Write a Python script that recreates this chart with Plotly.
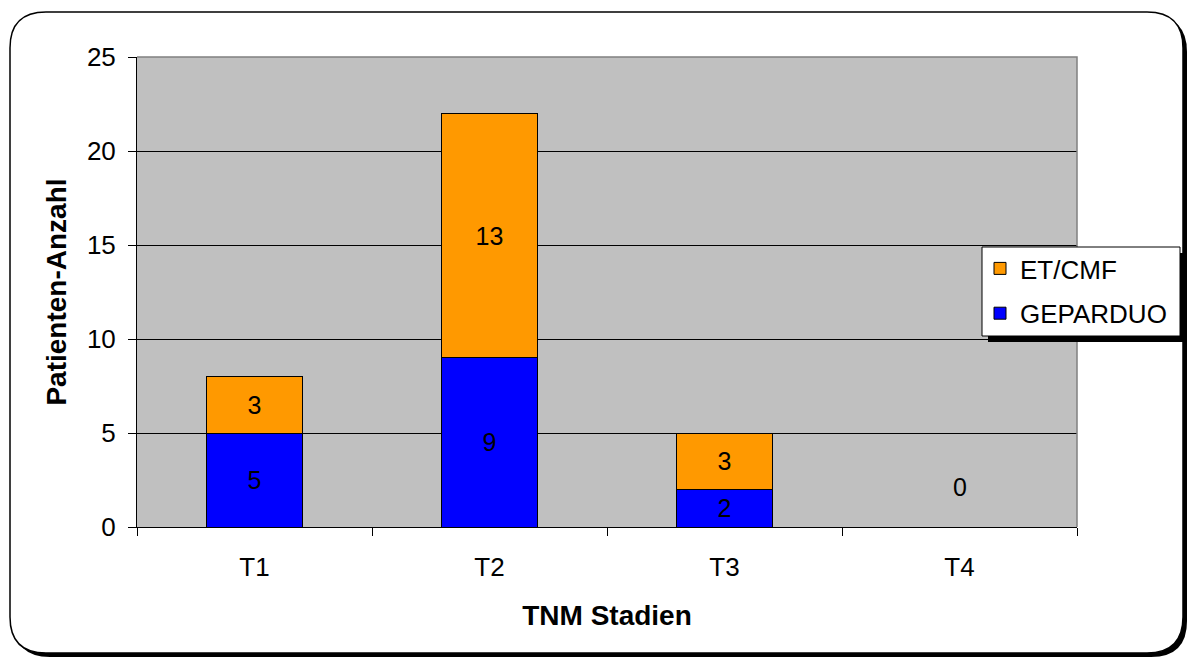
import plotly.graph_objects as go

# Tumour stages and patient counts per treatment arm
stages = ["T1", "T2", "T3", "T4"]
geparduo = [5, 9, 2, 0]
et_cmf = [3, 13, 3, 0]
y_ticks = [0, 5, 10, 15, 20, 25]

W, H = 1189, 659
L, R, T, B = 137, 112, 57, 132
PW, PH = W - L - R, H - T - B

FONT = "Liberation Sans, Arial, sans-serif"
BLUE = "#0000FF"
ORANGE = "#FF9900"


def px(x):
    return (x - L) / PW


def py(y):
    return (H - B - y) / PH


def rounded_rect(x0, y0, x1, y1, r):
    """SVG path (paper coords) for a rounded rectangle given in pixels."""
    pts = [
        f"M{px(x0 + r)},{py(y0)}",
        f"L{px(x1 - r)},{py(y0)}",
        f"Q{px(x1)},{py(y0)} {px(x1)},{py(y0 + r)}",
        f"L{px(x1)},{py(y1 - r)}",
        f"Q{px(x1)},{py(y1)} {px(x1 - r)},{py(y1)}",
        f"L{px(x0 + r)},{py(y1)}",
        f"Q{px(x0)},{py(y1)} {px(x0)},{py(y1 - r)}",
        f"L{px(x0)},{py(y0 + r)}",
        f"Q{px(x0)},{py(y0)} {px(x0 + r)},{py(y0)}",
        "Z",
    ]
    return " ".join(pts)


def labels(vals):
    return [str(v) if v > 0 else "" for v in vals]


fig = go.Figure()
fig.add_trace(go.Bar(
    x=stages, y=geparduo, name="GEPARDUO",
    marker=dict(color=BLUE, line=dict(color="black", width=1)),
    text=labels(geparduo), textposition="inside", insidetextanchor="middle",
    textfont=dict(family=FONT, size=25, color="black"),
    legendgroup="g", legendrank=2, hoverinfo="x+y+name",
))
fig.add_trace(go.Bar(
    x=stages, y=et_cmf, name="ET/CMF",
    marker=dict(color=ORANGE, line=dict(color="black", width=1)),
    text=labels(et_cmf), textposition="inside", insidetextanchor="middle",
    textfont=dict(family=FONT, size=25, color="black"),
    legendgroup="e", legendrank=1, hoverinfo="x+y+name",
))

# value label for the empty T4 column
fig.add_annotation(
    x=stages[3], y=geparduo[3] + et_cmf[3], yshift=40, text=str(geparduo[3] + et_cmf[3]),
    showarrow=False, font=dict(family=FONT, size=25, color="black"),
)

shapes = [
    # outer frame shadow and frame
    dict(type="path", xref="paper", yref="paper", layer="below",
         path=rounded_rect(14, 16, 1187, 657, 36),
         fillcolor="black", line=dict(width=0)),
    dict(type="path", xref="paper", yref="paper", layer="below",
         path=rounded_rect(10, 12, 1183, 653, 36),
         fillcolor="white", line=dict(color="black", width=1.5)),
    # plot area background
    dict(type="rect", xref="paper", yref="paper", layer="below",
         x0=0, x1=1, y0=0, y1=1, fillcolor="#C0C0C0", line=dict(width=0)),
    # grey top/right border of the plot area
    dict(type="path", xref="paper", yref="paper", layer="above",
         path="M0,1 L1,1 L1,0", line=dict(color="#808080", width=1.5)),
    # legend box shadow and box
    dict(type="rect", xref="paper", yref="paper", layer="above",
         x0=px(988), x1=px(1187), y0=py(253), y1=py(342),
         fillcolor="black", line=dict(width=0)),
    dict(type="rect", xref="paper", yref="paper", layer="above",
         x0=px(982), x1=px(1180), y0=py(247), y1=py(336),
         fillcolor="white", line=dict(color="black", width=1)),
]

fig.update_layout(
    width=W, height=H,
    margin=dict(l=L, r=R, t=T, b=B, autoexpand=False),
    paper_bgcolor="white",
    plot_bgcolor="rgba(0,0,0,0)",
    barmode="stack",
    bargap=0.59,
    font=dict(family=FONT, size=26, color="black"),
    shapes=shapes,
    showlegend=True,
    legend=dict(
        x=px(980), y=py(245), xanchor="left", yanchor="top",
        bgcolor="rgba(0,0,0,0)", borderwidth=0,
        font=dict(family=FONT, size=26, color="black"),
        traceorder="grouped", tracegroupgap=8,
    ),
    xaxis=dict(
        type="category", range=[-0.5, 3.5],
        showline=True, linecolor="black", linewidth=1,
        ticks="outside", tickson="boundaries", ticklen=8, tickcolor="black",
        tickfont=dict(family=FONT, size=26), ticklabelstandoff=17,
        showgrid=False, zeroline=False,
        title=dict(text="TNM Stadien", standoff=24,
                   font=dict(family=FONT, size=28, weight="bold")),
    ),
    yaxis=dict(
        range=[0, 25], tickvals=y_ticks,
        showline=True, linecolor="black", linewidth=1,
        ticks="outside", ticklen=8, tickcolor="black",
        tickfont=dict(family=FONT, size=26), ticklabelstandoff=7,
        showgrid=True, gridcolor="black", gridwidth=1, zeroline=False,
        title=dict(text="Patienten-Anzahl", standoff=12,
                   font=dict(family=FONT, size=28, weight="bold")),
    ),
)

fig.write_html("out.html")
